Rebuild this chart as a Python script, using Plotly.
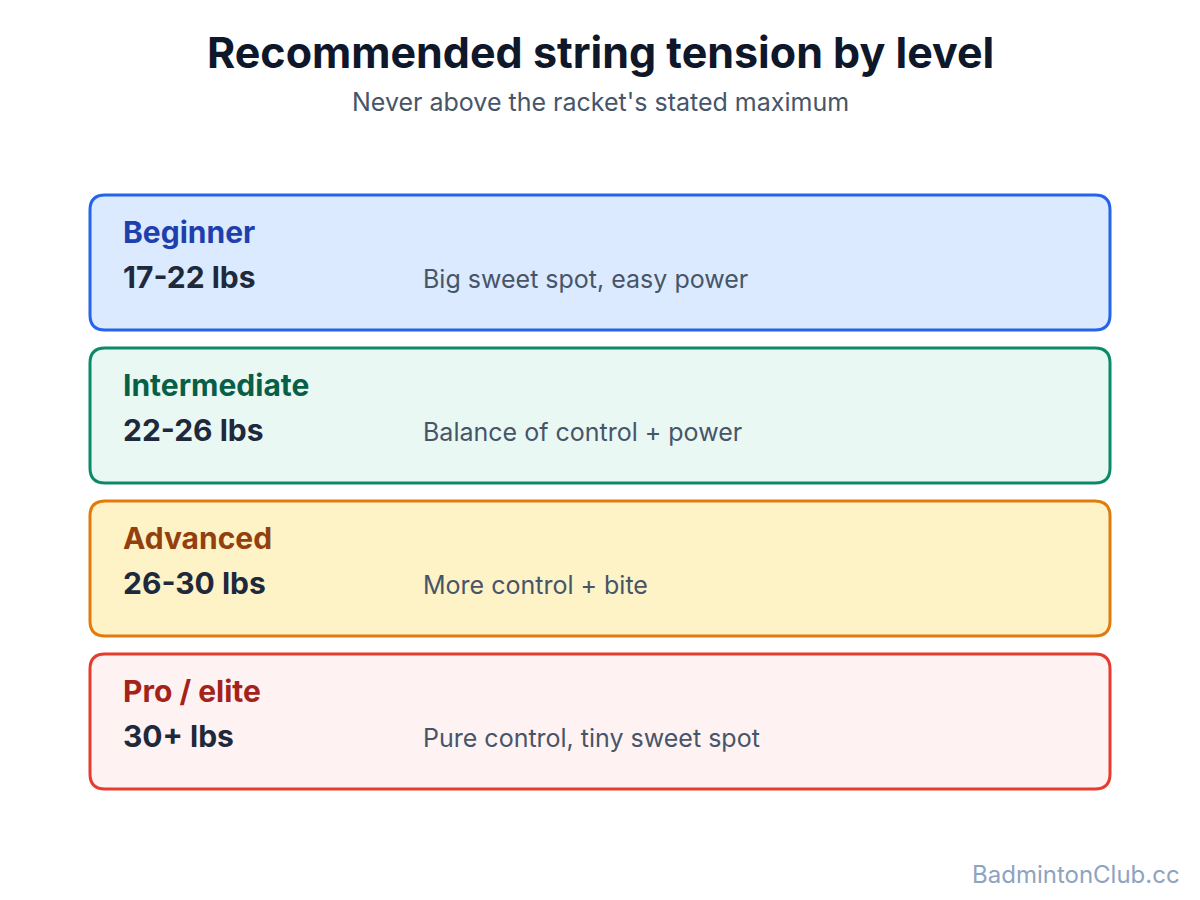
import plotly.graph_objects as go

levels = ["Beginner", "Intermediate", "Advanced", "Pro / elite"]
ranges = ["17-22 lbs", "22-26 lbs", "26-30 lbs", "30+ lbs"]
notes = ["Big sweet spot, easy power", "Balance of control + power",
         "More control + bite", "Pure control, tiny sweet spot"]

borders = ["#2563eb", "#0b8a6a", "#e07b0c", "#e63b2e"]
fills = ["#dbeafe", "#eaf8f4", "#fef2c7", "#fef2f2"]
label_colors = ["#1e40af", "#065f46", "#92400e", "#a3231b"]

FONT = "Inter"


def rounded_rect(x0, y0, x1, y1, r):
    return (f"M {x0+r},{y0} L {x1-r},{y0} Q {x1},{y0} {x1},{y0+r} "
            f"L {x1},{y1-r} Q {x1},{y1} {x1-r},{y1} L {x0+r},{y1} "
            f"Q {x0},{y1} {x0},{y1-r} L {x0},{y0+r} Q {x0},{y0} {x0+r},{y0} Z")


fig = go.Figure()
shapes = []
annotations = []

top, h, gap = 195, 135, 18
for i, lvl in enumerate(levels):
    y0 = top + i * (h + gap)
    shapes.append(dict(type="path", path=rounded_rect(90, y0, 1110, y0 + h, 15),
                       fillcolor=fills[i], line=dict(color=borders[i], width=3),
                       layer="below"))
    annotations.append(dict(x=121, y=y0 + 37, text=f"<b>{lvl}</b>", xanchor="left",
                            font=dict(size=30, color=label_colors[i], family=FONT)))
    annotations.append(dict(x=121, y=y0 + 82, text=f"<b>{ranges[i]}</b>", xanchor="left",
                            font=dict(size=30, color="#1e293b", family=FONT)))
    annotations.append(dict(x=421, y=y0 + 84, text=notes[i], xanchor="left",
                            font=dict(size=25, color="#475569", family=FONT)))

annotations.append(dict(x=600, y=52, text="<b>Recommended string tension by level</b>",
                        font=dict(size=43, color="#0f172a", family=FONT)))
annotations.append(dict(x=600, y=102, text="Never above the racket's stated maximum",
                        font=dict(size=25, color="#475569", family=FONT)))
annotations.append(dict(x=1182, y=874, text="BadmintonClub.cc", xanchor="right",
                        font=dict(size=24, color="#8fa3bf", family=FONT)))

for a in annotations:
    a.update(xref="x", yref="y", showarrow=False, yanchor="middle")

fig.update_layout(
    width=1200, height=900, margin=dict(l=0, r=0, t=0, b=0),
    plot_bgcolor="white", paper_bgcolor="white",
    xaxis=dict(range=[8, 1208], visible=False, fixedrange=True),
    yaxis=dict(range=[908, 8], visible=False, fixedrange=True),
    shapes=shapes, annotations=annotations, showlegend=False,
)

fig.write_html("out.html")
